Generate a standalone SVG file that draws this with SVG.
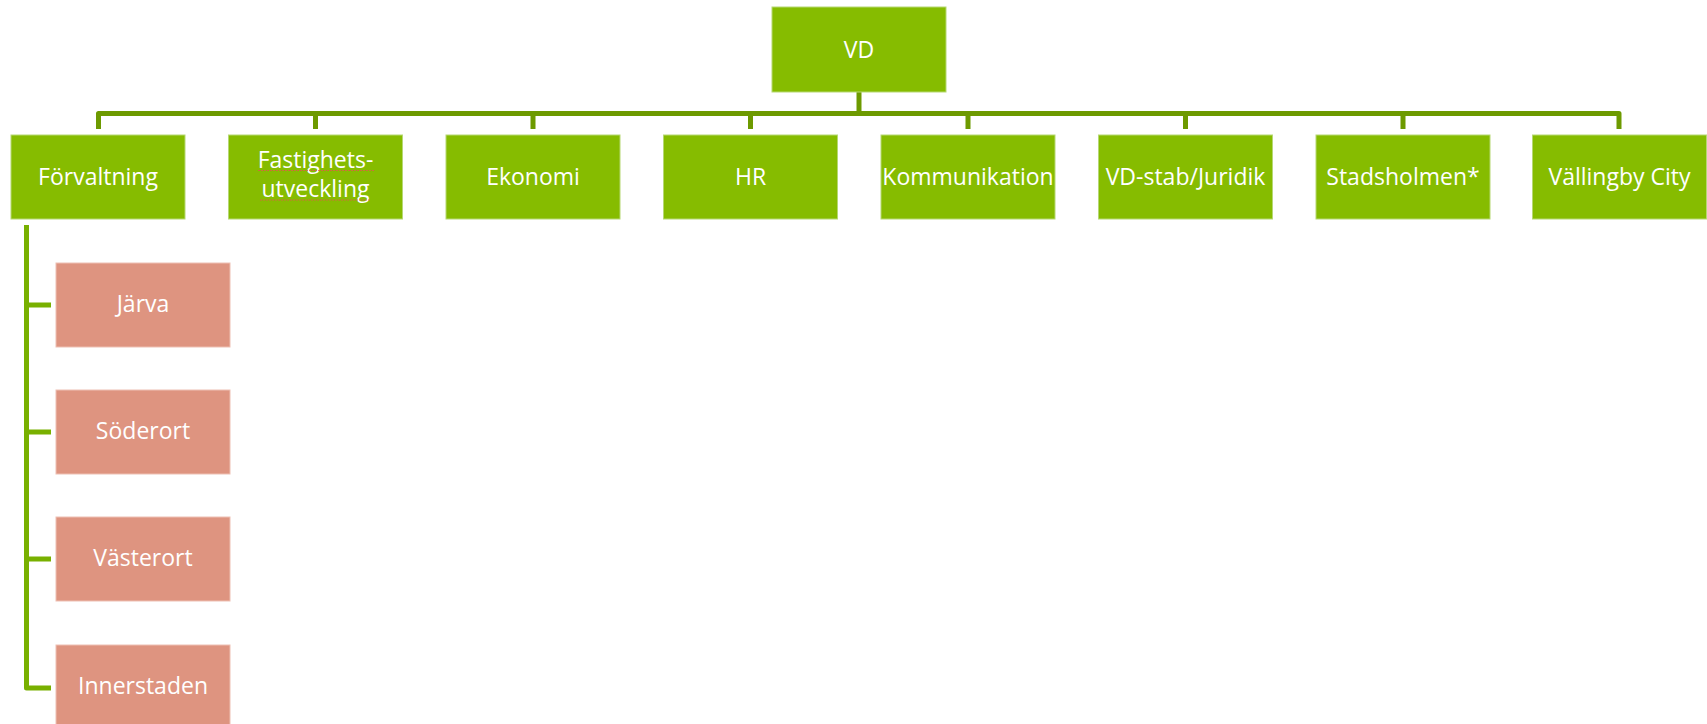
<svg xmlns="http://www.w3.org/2000/svg" width="1707" height="724" viewBox="0 0 1707 724">
<style>
.g{fill:#86bc00;stroke:#b6d873;stroke-width:1}
.p{fill:#de9480;stroke:#eec0b3;stroke-width:1}
.t{font-family:"Open Sans","Noto Sans","Liberation Sans",sans-serif;font-size:23px;fill:#ffffff;text-anchor:middle}
.bus{fill:none;stroke:#6d9a00;stroke-width:5;stroke-linejoin:round}
.side{fill:none;stroke:#78b000;stroke-width:5;stroke-linejoin:round}
.sq{fill:none;stroke:#e05a4a;stroke-width:1;stroke-dasharray:2 1;opacity:0.8}
</style>
<rect width="1707" height="724" fill="#ffffff"/>
<g id="connectors">
<path class="bus" d="M859,92 V113.5"/>
<path class="bus" d="M98.5,129 V113.5 H1619 V129"/>
<path class="bus" d="M315.5,113.5 V129 M533,113.5 V129 M750.5,113.5 V129 M968,113.5 V129 M1185.5,113.5 V129 M1403,113.5 V129"/>
<path class="side" d="M26.5,225 V688 H51 M26.5,305 H51 M26.5,432 H51 M26.5,559 H51"/>
</g>
<g id="vd"><rect class="g" x="772" y="7" width="174" height="85"/><text class="t" x="859" y="58">VD</text></g>
<g id="forvaltning"><rect class="g" x="11" y="135" width="174" height="84"/><text class="t" x="98" y="185">Förvaltning</text></g>
<g id="fastighetsutveckling"><rect class="g" x="228.5" y="135" width="174" height="84"/><text class="t" x="315.5" y="168">Fastighets-</text><text class="t" x="315.5" y="197">utveckling</text>
<path class="sq" d="M258,170.5 H375 M260,200 H370"/></g>
<g id="ekonomi"><rect class="g" x="446" y="135" width="174" height="84"/><text class="t" x="533" y="185">Ekonomi</text></g>
<g id="hr"><rect class="g" x="663.5" y="135" width="174" height="84"/><text class="t" x="750.5" y="185">HR</text></g>
<g id="kommunikation"><rect class="g" x="881" y="135" width="174" height="84"/><text class="t" x="968" y="185">Kommunikation</text></g>
<g id="vd-stab"><rect class="g" x="1098.5" y="135" width="174" height="84"/><text class="t" x="1185.5" y="185">VD-stab/Juridik</text></g>
<g id="stadsholmen"><rect class="g" x="1316" y="135" width="174" height="84"/><text class="t" x="1403" y="185">Stadsholmen*</text></g>
<g id="vallingby"><rect class="g" x="1532.5" y="135" width="174" height="84"/><text class="t" x="1619.5" y="185">Vällingby City</text></g>
<g id="jarva"><rect class="p" x="56" y="263" width="174" height="84"/><text class="t" x="143" y="312">Järva</text></g>
<g id="soderort"><rect class="p" x="56" y="390" width="174" height="84"/><text class="t" x="143" y="439">Söderort</text></g>
<g id="vasterort"><rect class="p" x="56" y="517" width="174" height="84"/><text class="t" x="143" y="566">Västerort</text></g>
<g id="innerstaden"><rect class="p" x="56" y="645" width="174" height="84"/><text class="t" x="143" y="694">Innerstaden</text></g>
</svg>
